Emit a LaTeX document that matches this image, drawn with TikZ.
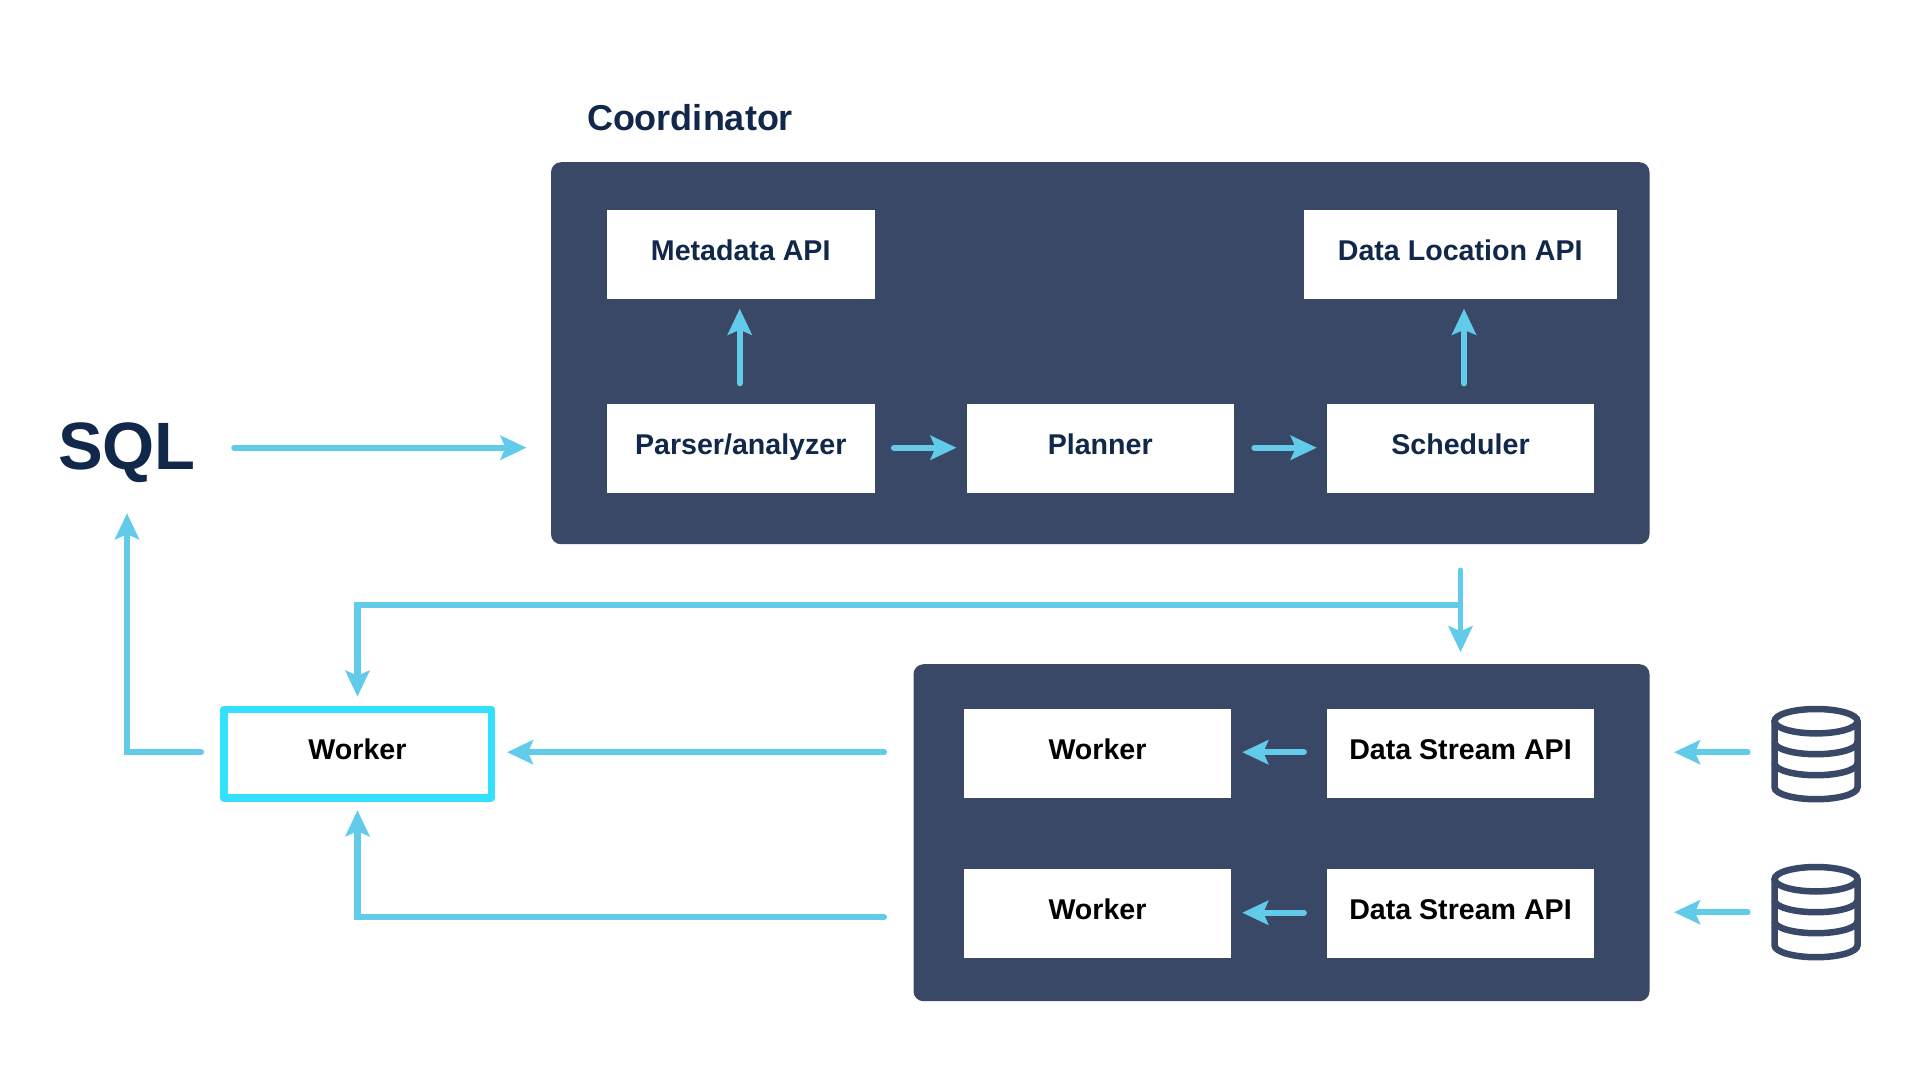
\documentclass[tikz,border=0pt]{standalone}
\usepackage{fontspec}
\setmainfont{Liberation Sans}
\usetikzlibrary{arrows.meta,calc}
\definecolor{panelc}{HTML}{394866}
\definecolor{flowc}{HTML}{62CBE9}
\definecolor{workc}{HTML}{33E1FF}
\definecolor{navyc}{HTML}{12284B}
\tikzset{
  x=1pt,y=-1pt,
  panel/.style={fill=panelc,rounded corners=10pt,inner sep=0pt,outer sep=0pt},
  boxn/.style={fill=white,inner sep=0pt,outer sep=0pt,minimum width=267.5pt,minimum height=89pt,
    text height=20pt,text depth=8pt,font=\fontsize{28.6}{29}\selectfont\bfseries,text=navyc},
  boxk/.style={boxn,text=black},
  workerbox/.style={boxk,draw=workc,line width=7.5pt,line join=round,outer sep=3.75pt,
    minimum width=267.5pt,minimum height=88.5pt},
  title/.style={inner sep=0pt,outer sep=0pt,text=navyc,font=\bfseries},
  flow/.style={draw=flowc,line width=6.3pt,line cap=round,
    -{Stealth[length=26pt,width=24pt,inset=5pt]}},
  thinflow/.style={flow,line width=5.5pt},
  dbicon/.pic={
    \draw[draw=panelc,line width=6.5pt] (0,-33) ellipse [x radius=41.5pt,y radius=12.2pt];
    \draw[draw=panelc,line width=6.5pt] (-41.5,-33) -- (-41.5,33)
      arc[start angle=180,end angle=360,x radius=41.5pt,y radius=12pt] -- (41.5,-33);
    \draw[draw=panelc,line width=6.5pt] (-41.5,-12)
      arc[start angle=180,end angle=360,x radius=41.5pt,y radius=12pt];
    \draw[draw=panelc,line width=6.5pt] (-41.5,9)
      arc[start angle=180,end angle=360,x radius=41.5pt,y radius=12pt];
  },
  dbnode/.style={inner sep=0pt,outer sep=0pt,minimum width=88pt,minimum height=96pt},
}
\begin{document}
\begin{tikzpicture}
\useasboundingbox (0,0) rectangle (1921,1080);
\begin{scope}[yshift=-1.2pt]
% panels
\node[panel,minimum width=1098.5pt,minimum height=382pt] (panelA) at (1100.25,352) {};
\node[panel,minimum width=736pt,minimum height=337pt] (panelB) at (1281.5,831.5) {};
% titles
\node[title,anchor=base west,font=\fontsize{36}{36}\selectfont\bfseries] (coord) at (587,129) {Coordinator};
\node[title,font=\fontsize{67}{67}\selectfont\bfseries,text height=48pt,text depth=0pt] (sql) at (127,444) {SQL};
% coordinator boxes
\node[boxn] (meta) at (740.75,253) {Metadata API};
\node[boxn,minimum width=313.5pt] (dataloc) at (1460.25,253) {Data Location API};
\node[boxn] (parser) at (740.75,447.5) {Parser/analyzer};
\node[boxn] (planner) at (1100.25,447.5) {Planner};
\node[boxn] (sched) at (1460.5,447.5) {Scheduler};
% worker boxes
\node[boxk] (w1) at (1097.5,752.5) {Worker};
\node[boxk] (d1) at (1460.5,752.5) {Data Stream API};
\node[boxk] (w2) at (1097.5,912.5) {Worker};
\node[boxk] (d2) at (1460.5,912.5) {Data Stream API};
\node[workerbox] (wk) at (357.5,752.5) {Worker};
% databases
\node[dbnode] (db1) at (1816,753) {};
\node[dbnode] (db2) at (1816,911) {};
\pic at (db1.center) {dbicon};
\pic at (db2.center) {dbicon};
% flows inside coordinator
\draw[flow,shorten <=21pt,shorten >=10pt] ([xshift=-1pt]parser.north) -- ([xshift=-1pt]meta.south);
\draw[flow,shorten <=21pt,shorten >=10pt] ([xshift=3.5pt]sched.north) -- ([xshift=3.5pt]sched.north |- dataloc.south);
\draw[flow,shorten <=19.5pt,shorten >=10pt] ([yshift=1pt]parser.east) -- ([yshift=1pt]planner.west);
\draw[flow,shorten <=20.5pt,shorten >=10pt] ([yshift=1pt]planner.east) -- ([yshift=1pt]sched.west);
% SQL in
\coordinate (sqlout) at ([yshift=1pt]sql.east |- parser.west);
\draw[flow,shorten <=38.5pt,shorten >=24.5pt] (sqlout) -- (panelA.west |- sqlout);
% coordinator to workers
\draw[thinflow,shorten <=26pt,shorten >=12pt] (sched.south |- panelA.south) -- (sched.south |- panelB.north);
\coordinate (branch) at ($(sched.south |- panelA.south)+(0,61)$);
\draw[flow,line cap=butt] (branch) -- (wk.north |- branch) -- ([yshift=9pt]wk.north);
% workers to local worker
\coordinate (topin) at ([yshift=1.5pt]panelB.west |- w1.west);
\coordinate (botin) at ([yshift=-3.5pt]panelB.west |- w2.west);
\draw[flow,shorten <=29.5pt,shorten >=12pt] (topin) -- (wk.east |- topin);
\draw[flow,shorten <=29.5pt] (botin) -- (wk.south |- botin) -- ([yshift=-8.5pt]wk.south);
% worker to SQL
\coordinate (wkout) at ([yshift=1.5pt]wk.west);
\draw[flow,shorten <=19pt,shorten >=44pt] (wkout) -- (sql.south |- wkout) -- (sql.south);
% streams
\draw[flow,shorten <=23pt,shorten >=11pt] ([yshift=1.5pt]d1.west) -- ([yshift=1.5pt]w1.east);
\draw[flow,shorten <=23pt,shorten >=11pt] ([yshift=1pt]d2.west) -- ([yshift=1pt]w2.east);
\coordinate (db1out) at ([yshift=2pt]db1.west);
\coordinate (db2out) at ([yshift=0pt]db2.west);
\draw[flow,shorten <=24.5pt,shorten >=24.5pt] (db1out) -- (panelB.east |- db1out);
\draw[flow,shorten <=24.5pt,shorten >=24.5pt] (db2out) -- (panelB.east |- db2out);
\end{scope}
\end{tikzpicture}
\end{document}
